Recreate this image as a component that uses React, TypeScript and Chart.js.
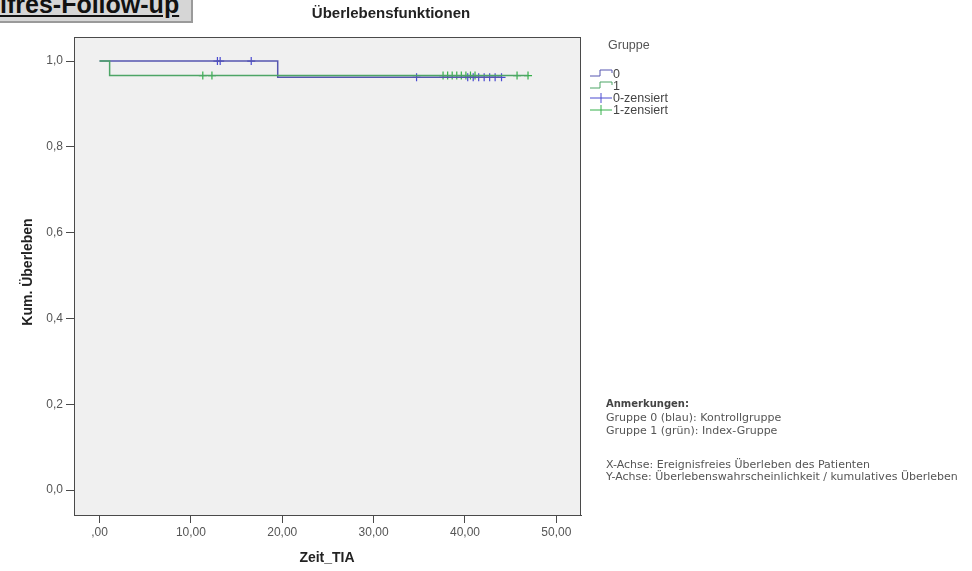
import React, { useEffect, useRef } from "react";
import { Chart, registerables } from "chart.js";

Chart.register(...registerables);

// ---- data ----
const GROUP_LABELS = ["0", "1"];
const STEP_TIMES_0 = [0, 19.5, 44.0];
const STEP_SURV_0 = [1.0, 0.962, 0.962];
const STEP_TIMES_1 = [0, 1.1, 46.9];
const STEP_SURV_1 = [1.0, 0.966, 0.966];
const CENSOR_TIMES_0 = [12.9, 13.2, 16.6, 34.7, 40.3, 40.9, 41.5, 42.1, 42.7, 43.3, 44.0];
const CENSOR_TIMES_1 = [11.3, 12.3, 37.6, 38.1, 38.6, 39.1, 39.6, 40.1, 40.6, 41.1, 45.7, 46.9];
const X_TICKS = [0, 10, 20, 30, 40, 50];
const Y_TICKS = [0, 0.2, 0.4, 0.6, 0.8, 1.0];
const LEGEND_ITEMS = ["0", "1", "0-zensiert", "1-zensiert"];
const NOTES = [
  "Gruppe 0 (blau): Kontrollgruppe",
  "Gruppe 1 (grün): Index-Gruppe",
  "X-Achse: Ereignisfreies Überleben des Patienten",
  "Y-Achse: Überlebenswahrscheinlichkeit / kumulatives Überleben",
];

const BLUE = "#5656b0";
const GREEN = "#4da566";
const BLUE_MARK = "#4a4ad0";
const GREEN_MARK = "#35b04a";

function survAt(times: number[], surv: number[], t: number) {
  let v = surv[0];
  for (let i = 0; i < times.length; i++) if (t >= times[i]) v = surv[i];
  return v;
}

const plotBg = {
  id: "plotBg",
  beforeDraw(chart: any) {
    const { ctx, chartArea: a } = chart;
    ctx.save();
    ctx.fillStyle = "#f0f0f0";
    ctx.fillRect(a.left, a.top, a.right - a.left, a.bottom - a.top);
    ctx.restore();
  },
  afterDraw(chart: any) {
    const { ctx, chartArea: a } = chart;
    ctx.save();
    ctx.strokeStyle = "#4a4a4a";
    ctx.lineWidth = 1;
    ctx.strokeRect(a.left + 0.5, a.top + 0.5, a.right - a.left - 1, a.bottom - a.top);
    ctx.restore();
  },
};

export default function App() {
  const ref = useRef<HTMLCanvasElement>(null);
  useEffect(() => {
    const canvas = ref.current!;
    const line0 = STEP_TIMES_0.map((t, i) => ({ x: t, y: STEP_SURV_0[i] }));
    const line1 = STEP_TIMES_1.map((t, i) => ({ x: t, y: STEP_SURV_1[i] }));
    const c0 = CENSOR_TIMES_0.map((t) => ({ x: t, y: survAt(STEP_TIMES_0, STEP_SURV_0, t) }));
    const c1 = CENSOR_TIMES_1.map((t) => ({ x: t, y: survAt(STEP_TIMES_1, STEP_SURV_1, t) }));
    const chart = new Chart(canvas, {
      type: "scatter",
      data: {
        datasets: [
          { label: GROUP_LABELS[1], data: line1, showLine: true, stepped: "before", borderColor: GREEN, borderWidth: 1.5, pointRadius: 0 } as any,
          { label: GROUP_LABELS[0], data: line0, showLine: true, stepped: "before", borderColor: BLUE, borderWidth: 1.5, pointRadius: 0 } as any,
          { label: "1-zensiert", data: c1, pointStyle: "cross", pointRadius: 4, borderColor: GREEN_MARK, borderWidth: 1.2, backgroundColor: GREEN_MARK },
          { label: "0-zensiert", data: c0, pointStyle: "cross", pointRadius: 4, borderColor: BLUE_MARK, borderWidth: 1.2, backgroundColor: BLUE_MARK },
        ],
      },
      options: {
        responsive: false,
        animation: false,
        layout: { padding: { left: 0, top: 37, right: 391, bottom: 0 } },
        plugins: { legend: { display: false }, tooltip: { enabled: false }, title: { display: false } },
        scales: {
          x: {
            type: "linear",
            min: -2.8,
            max: 52.7,
            afterFit: (s: any) => { s.height = 56; },
            afterBuildTicks: (s: any) => { s.ticks = X_TICKS.map((v) => ({ value: v })); },
            grid: { drawOnChartArea: false, tickLength: 8, color: "#4a4a4a", tickWidth: 1 },
            border: { display: true, color: "#4a4a4a" },
            ticks: {
              color: "#555",
              font: { family: "'Liberation Sans', Arial, sans-serif", size: 12 },
              padding: 2,
              maxRotation: 0,
              callback: (v: any) => (Number(v) === 0 ? ",00" : Number(v).toFixed(2).replace(".", ",")),
            },
          },
          y: {
            type: "linear",
            min: -0.058,
            max: 1.056,
            afterFit: (s: any) => { s.width = 74; },
            afterBuildTicks: (s: any) => { s.ticks = Y_TICKS.map((v) => ({ value: v })); },
            grid: { drawOnChartArea: false, tickLength: 8, color: "#4a4a4a", tickWidth: 1 },
            border: { display: true, color: "#4a4a4a" },
            ticks: {
              color: "#555",
              font: { family: "'Liberation Sans', Arial, sans-serif", size: 12 },
              padding: 3,
              callback: (v: any) => Number(v).toFixed(1).replace(".", ","),
            },
          },
        },
      },
      plugins: [plotBg],
    });
    return () => chart.destroy();
  }, []);

  const sans = "'Liberation Sans', Arial, sans-serif";
  const noteFont = "'DejaVu Sans', sans-serif";
  const legendY = [74, 86, 98, 110];
  const noteY = [418, 431, 465, 477];

  const icon = (i: number) => {
    if (i < 2) {
      const col = i === 0 ? BLUE : GREEN;
      return (
        <svg width={24} height={10} style={{ position: "absolute", left: 590, top: legendY[i] - 6 }}>
          <polyline points="0,8 10,8 10,2 22,2 22,5" fill="none" stroke={col} strokeWidth={1} />
        </svg>
      );
    }
    const col = i === 2 ? BLUE_MARK : GREEN_MARK;
    return (
      <svg width={24} height={10} style={{ position: "absolute", left: 590, top: legendY[i] - 5 }}>
        <line x1={0} y1={5} x2={22} y2={5} stroke={col} strokeWidth={1} />
        <line x1={11} y1={0} x2={11} y2={10} stroke={col} strokeWidth={1} />
      </svg>
    );
  };

  return (
    <div style={{ position: "fixed", left: 0, top: 0, width: 972, height: 571, background: "#fff", overflow: "hidden", fontFamily: sans }}>
      <canvas ref={ref} width={972} height={571} style={{ position: "absolute", left: 0, top: 0, width: 972, height: 571 }} />
      {/* top-left label box */}
      <div style={{ position: "absolute", left: -1, top: -1, width: 192, height: 22, background: "#d6d6d6", borderRight: "2px solid #9a9a9a", borderBottom: "2px solid #9a9a9a", overflow: "hidden" }}>
        <div style={{ position: "absolute", left: 1, top: -9, fontSize: 25, fontWeight: "bold", textDecoration: "underline", color: "#111", whiteSpace: "nowrap", lineHeight: "28px" }}>ifres-Follow-up</div>
      </div>
      {/* title */}
      <div style={{ position: "absolute", left: 291, width: 200, top: 5, textAlign: "center", fontSize: 15, fontWeight: "bold", color: "#222", lineHeight: "16px" }}>Überlebensfunktionen</div>
      {/* axis titles */}
      <div style={{ position: "absolute", left: 227, width: 200, top: 549, textAlign: "center", fontSize: 14, fontWeight: "bold", color: "#222", lineHeight: "16px" }}>Zeit_TIA</div>
      <div style={{ position: "absolute", left: 27 - 100, top: 272 - 8, width: 200, textAlign: "center", fontSize: 14, fontWeight: "bold", color: "#222", lineHeight: "16px", transform: "rotate(-90deg)" }}>Kum. Überleben</div>
      {/* legend */}
      <div style={{ position: "absolute", left: 608, top: 38, fontSize: 12.5, color: "#555", lineHeight: "14px" }}>Gruppe</div>
      {LEGEND_ITEMS.map((t, i) => (
        <React.Fragment key={t}>
          {icon(i)}
          <div style={{ position: "absolute", left: 613, top: legendY[i] - 7, fontSize: 12.5, color: "#444", lineHeight: "14px", whiteSpace: "nowrap" }}>{t}</div>
        </React.Fragment>
      ))}
      {/* notes */}
      <div style={{ position: "absolute", left: 606, top: 398, fontFamily: noteFont, fontSize: 10, fontWeight: "bold", color: "#444", lineHeight: "12px", whiteSpace: "nowrap" }}>Anmerkungen:</div>
      {NOTES.map((t, i) => (
        <div key={t} style={{ position: "absolute", left: 606, top: noteY[i] - 6, fontFamily: noteFont, fontSize: 11, color: "#555", lineHeight: "12px", whiteSpace: "nowrap" }}>{t}</div>
      ))}
    </div>
  );
}
